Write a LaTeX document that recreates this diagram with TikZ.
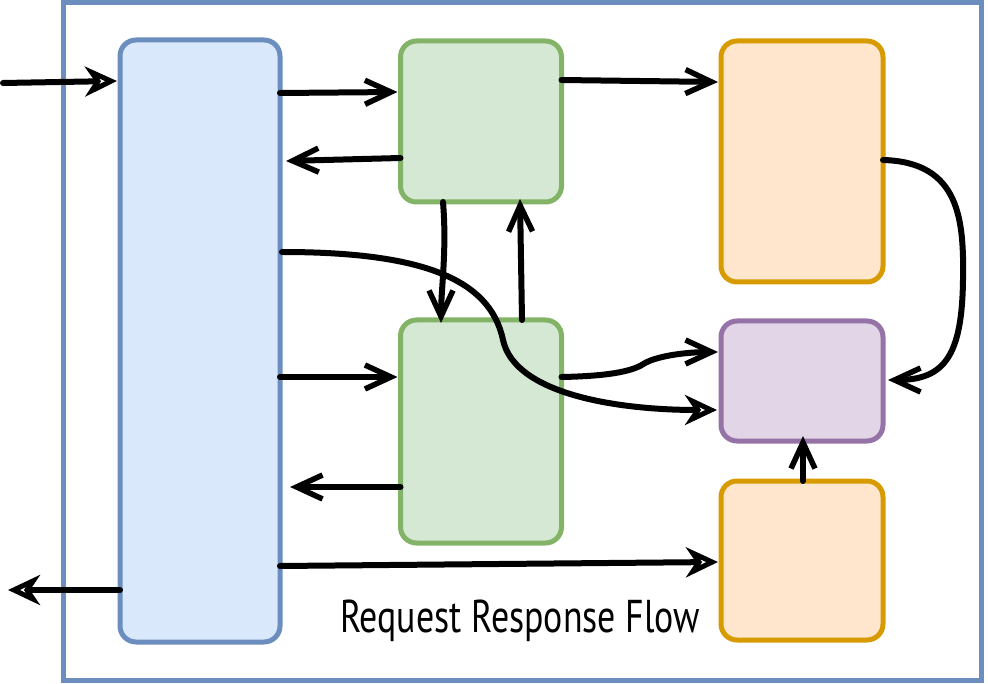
\documentclass[tikz,border=0pt]{standalone}
\usepackage{fontspec}
\setmainfont{PT Sans}
\usetikzlibrary{arrows.meta}
\definecolor{bstroke}{HTML}{6C8EBF}
\definecolor{bfill}{HTML}{DAE8FC}
\definecolor{gstroke}{HTML}{82B366}
\definecolor{gfill}{HTML}{D5E8D4}
\definecolor{ostroke}{HTML}{D79B00}
\definecolor{ofill}{HTML}{FFE6CC}
\definecolor{pstroke}{HTML}{9673A6}
\definecolor{pfill}{HTML}{E1D5E7}
\tikzset{
  box/.style={draw, line width=5pt, rounded corners=16pt, inner sep=0pt, outer sep=0pt},
  bluebox/.style={box, draw=bstroke, fill=bfill},
  greenbox/.style={box, draw=gstroke, fill=gfill},
  orangebox/.style={box, draw=ostroke, fill=ofill},
  purplebox/.style={box, draw=pstroke, fill=pfill},
  arr/.style={line width=6pt, line cap=round, line join=round,
    -{Straight Barb[length=26pt 0 0,width=24pt 0 0,line width=5.5pt]}},
  harr/.style={line width=6pt, line cap=round, line join=round,
    -{Stealth[open,fill=white,length=32pt 0 0,width=30pt 0 0,inset=10pt 0,line width=5pt]}},
}
\begin{document}
\begin{tikzpicture}[x=1pt,y=-1pt]
\useasboundingbox (0,0) rectangle (988,684);
% frame
\node[draw=bstroke, line width=5pt, minimum width=918pt, minimum height=677pt, inner sep=0pt] (frame) at (522,341.5) {};
% boxes
\node[bluebox, minimum width=160pt, minimum height=602pt] (blue) at (200,341) {};
\node[greenbox, minimum width=161pt, minimum height=161pt] (g1) at (481,121.5) {};
\node[greenbox, minimum width=161pt, minimum height=223pt] (g2) at (481,431.5) {};
\node[orangebox, minimum width=162pt, minimum height=241pt] (o1) at (802,161.5) {};
\node[purplebox, minimum width=162pt, minimum height=120pt] (pu) at (802,381) {};
\node[orangebox, minimum width=162pt, minimum height=159pt] (o2) at (802,560.5) {};
% free ends
\coordinate (in) at (3,83);
\coordinate (out) at (8,590);
% label
\node[font=\fontsize{46}{46}\selectfont, xscale=0.78, inner sep=0pt] (lbl) at (520,621) {Request Response Flow};
% connectors
\draw[harr] (in) -- ([xshift=-3pt]blue.west |- 0,81);
\draw[arr] (blue.east |- 0,93) -- ([xshift=-3pt]g1.west |- 0,92);
\draw[arr] (g1.west |- 0,158) -- ([xshift=6pt]blue.east |- 0,161);
\draw[arr] (g1.south -| 443,0) .. controls (447,250) and (441,290) .. ([yshift=-3pt]g2.north -| 441,0);
\draw[arr] (g2.north -| 522,0) -- ([yshift=3pt]g1.south -| 520,0);
\draw[arr] (g1.east |- 0,80) -- ([xshift=-3pt]o1.west |- 0,82);
\draw[harr] ([xshift=2pt]blue.east |- 0,252) .. controls (420,252) and (490,278) .. (503,340) .. controls (515,395) and (620,410) .. ([xshift=-4pt]pu.west |- 0,410);
\draw[arr] (blue.east |- 0,377) -- ([xshift=-3pt]g2.west |- 0,377);
\draw[arr] (g2.west |- 0,487) -- ([xshift=10pt]blue.east |- 0,487);
\draw[arr] (g2.east |- 0,377) .. controls (615,376) and (635,370) .. (645,363) .. controls (660,355) and (690,352) .. ([xshift=-3pt]pu.west |- 0,352);
\draw[arr] (o1.east |- 0,160) .. controls (960,162) and (964,220) .. (963,280) .. controls (962,355) and (945,380) .. ([xshift=5pt]pu.east |- 0,380);
\draw[arr] (o2.north -| 803,0) -- ([yshift=5pt]pu.south -| 803,0);
\draw[harr] (blue.east |- 0,566) -- ([xshift=-3pt]o2.west |- 0,562);
\draw[harr] (blue.west |- 0,590) -- (out);
\end{tikzpicture}
\end{document}
